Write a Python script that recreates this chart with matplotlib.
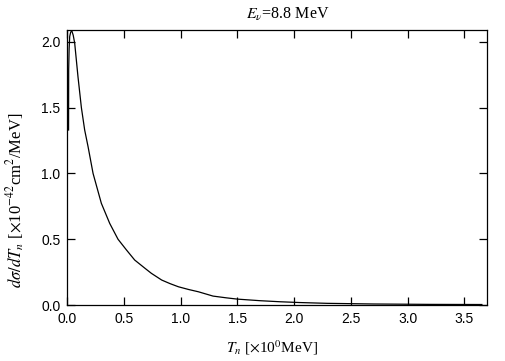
import matplotlib
matplotlib.use("Agg")
import matplotlib.pyplot as plt

# values
t_n = [0.011, 0.012, 0.016, 0.021, 0.030, 0.041, 0.052, 0.065, 0.094, 0.124,
       0.153, 0.183, 0.227, 0.300, 0.374, 0.447, 0.520, 0.594, 0.685, 0.741,
       0.832, 0.905, 0.979, 1.070, 1.155, 1.285, 1.400, 1.500, 1.700, 1.876,
       2.050, 2.290, 2.700, 3.200, 3.655]
dsigma = [1.33, 1.79, 1.95, 2.04, 2.075, 2.08, 2.05, 1.99, 1.735, 1.50,
          1.33, 1.203, 1.00, 0.773, 0.62, 0.50, 0.42, 0.342, 0.279, 0.241,
          0.19, 0.163, 0.139, 0.118, 0.101, 0.068, 0.055, 0.045, 0.033, 0.025,
          0.019, 0.013, 0.008, 0.005, 0.004]
xticks = [0.0, 0.5, 1.0, 1.5, 2.0, 2.5, 3.0, 3.5]
yticks = [0.0, 0.5, 1.0, 1.5, 2.0]

plt.rcParams['mathtext.fontset'] = 'stix'

fig = plt.figure(figsize=(5.05, 3.61), dpi=100)
ax = fig.add_axes([0.1333, 0.155, 0.831, 0.762])

ax.plot(t_n, dsigma, color='black', lw=0.9)

ax.set_xlim(0, 3.70)
ax.set_ylim(0, 2.09)
ax.set_xticks(xticks)
ax.set_yticks(yticks)
ax.set_xticklabels(['%.1f' % v for v in xticks], family='Liberation Sans')
ax.set_yticklabels(['%.1f' % v for v in yticks], family='Liberation Sans')
ax.tick_params(direction='in', length=6, width=0.9, labelsize=10,
               top=True, right=True, pad=5)
for s in ax.spines.values():
    s.set_linewidth(0.9)

serif = 'Liberation Serif'
ax.set_title(r'$E_\nu$=8.8 MeV', family=serif, fontsize=11.5, pad=8, x=0.526)
ax.set_xlabel(r'$T_n$ [$\times$10$^0$MeV]', family=serif, fontsize=11)
ax.set_ylabel(r'$d\sigma/dT_n$ [$\times$10$^{-42}$cm$^2$/MeV]', family=serif,
              fontsize=12)
# labels sit a little off-centre in the original
ax.xaxis.set_label_coords(0.488, -0.122)
ax.yaxis.set_label_coords(-0.095, 0.38)

fig.savefig('out.png', dpi=100)
